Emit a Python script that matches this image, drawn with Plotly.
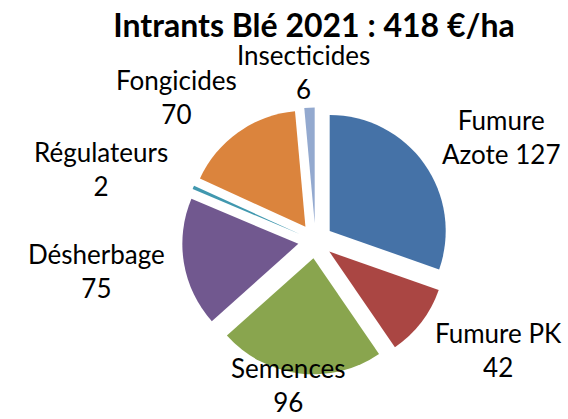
import math
import plotly.graph_objects as go

categories = ["Fumure Azote", "Fumure PK", "Semences", "Désherbage", "Régulateurs", "Fongicides", "Insecticides"]
label_lines = [["Fumure", "Azote {v}"], ["Fumure PK", "{v}"], ["Semences", "{v}"], ["Désherbage", "{v}"],
               ["Régulateurs", "{v}"], ["Fongicides", "{v}"], ["Insecticides", "{v}"]]
values = [127, 42, 96, 75, 2, 70, 6]
colors = ["#4572A7", "#AA4643", "#89A54E", "#71588F", "#4198AF", "#DB843D", "#93A9CF"]
title_text = "Intrants Blé 2021 : 418 €/ha"

W, H = 568, 419
PULL = 0.15
FS = 26
# pie box in pixels (from top-left)
CX, CY, R = 315.5, 241.0, 116.0
HALF = R * (1 + PULL)
GX, GY = 20, 2

fig = go.Figure(go.Pie(
    labels=categories,
    values=values,
    sort=False,
    direction="clockwise",
    rotation=0,
    pull=[PULL] * len(values),
    marker=dict(colors=colors, line=dict(width=0)),
    textinfo="none",
    hoverinfo="label+value",
    showlegend=False,
    domain=dict(x=[(CX - HALF) / W, (CX + HALF) / W],
                y=[(H - CY - HALF) / H, (H - CY + HALF) / H]),
))

# labels placed just outside each slice, along its bisector
total = sum(values)
cum = 0
for lines, v in zip(label_lines, values):
    theta = math.radians((cum + v / 2) / total * 360)
    cum += v
    s, c = math.sin(theta), math.cos(theta)
    txt_lines = [ln.format(v=v) for ln in lines]
    hw = max(len(ln) for ln in txt_lines) * FS * 0.52 / 2
    hh = len(txt_lines) * FS * 1.3 / 2
    px = CX + (HALF + GX) * s
    py = CY - (HALF + GY) * c
    lx = px + hw * math.copysign(min(1.0, 1.3 * abs(s)), s)
    ly = py - hh * math.copysign(min(1.0, 1.3 * abs(c)), c)
    ly = min(max(ly, hh), H - hh)
    fig.add_annotation(
        x=lx / W, y=1 - ly / H, xref="paper", yref="paper",
        text="<br>".join(txt_lines),
        showarrow=False, xanchor="center", yanchor="middle", align="center",
        font=dict(family="Lato", size=FS, color="#000000"),
    )

fig.update_layout(
    width=W, height=H,
    margin=dict(l=0, r=0, t=0, b=0),
    paper_bgcolor="white",
    title=dict(text="<b>" + title_text + "</b>", x=314 / W, xanchor="center",
               y=1 - 26 / H, yanchor="middle",
               font=dict(family="Lato", size=32, color="#000000")),
)

fig.write_html("out.html", config={"displayModeBar": False},
               post_script=["document.body.style.margin='0';"])
